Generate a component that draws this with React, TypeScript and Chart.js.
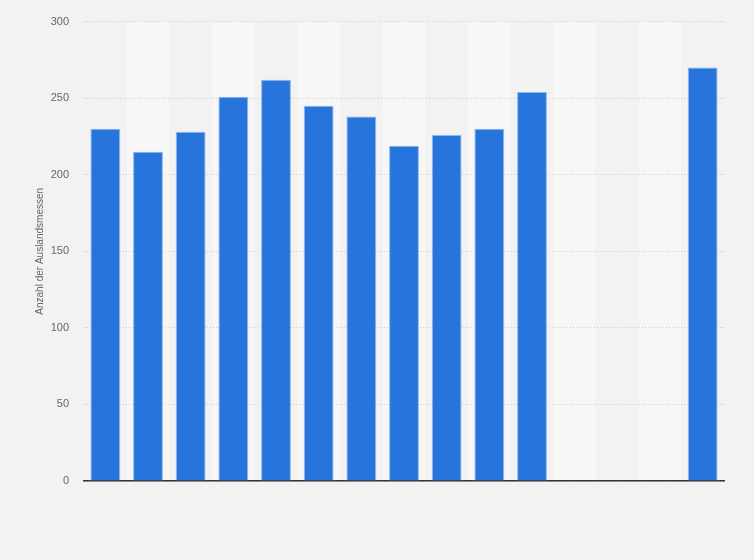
import { useEffect, useRef } from 'react';
import { Chart, registerables, Plugin } from 'chart.js';

Chart.register(...registerables);

// Jahre (x-Achse, im Original ohne Beschriftung)
const years = [
  '2009', '2010', '2011', '2012', '2013', '2014', '2015', '2016',
  '2017', '2018', '2019', '2020', '2021', '2022', '2023',
];
// Anzahl der Auslandsmessen
const fairs = [230, 215, 228, 251, 262, 245, 238, 219, 226, 230, 254, null, null, null, 270];
const yTicks = [0, 50, 100, 150, 200, 250, 300];

// alternating column bands behind grid and bars
const bandPlugin: Plugin<'bar'> = {
  id: 'bands',
  beforeDraw(chart) {
    const { ctx, chartArea, scales } = chart;
    const x = scales.x;
    const step = (chartArea.right - chartArea.left) / years.length;
    ctx.save();
    ctx.fillStyle = '#f7f7f7';
    years.forEach((_, i) => {
      if (i % 2 === 1) {
        const cx = x.getPixelForValue(i);
        ctx.fillRect(cx - step / 2, chartArea.top, step, chartArea.bottom - chartArea.top);
      }
    });
    ctx.restore();
  },
};

const App = () => {
  const canvasRef = useRef<HTMLCanvasElement | null>(null);
  const chartRef = useRef<Chart<'bar'> | null>(null);

  useEffect(() => {
    document.body.style.margin = '0';
    if (!canvasRef.current) return;
    if (chartRef.current) chartRef.current.destroy();

    chartRef.current = new Chart(canvasRef.current, {
      type: 'bar',
      data: {
        labels: years,
        datasets: [
          {
            label: 'Anzahl der Auslandsmessen',
            data: fairs,
            backgroundColor: '#2775dc',
            borderColor: '#8db6ee',
            borderWidth: 1,
            barPercentage: 0.7,
            categoryPercentage: 1,
          },
        ],
      },
      options: {
        responsive: false,
        animation: false,
        layout: { padding: { left: 0, right: 30, top: 20, bottom: 79 } },
        plugins: { legend: { display: false }, tooltip: { enabled: false } },
        scales: {
          x: {
            ticks: { display: false },
            grid: { display: false, drawTicks: false },
            border: { display: true, color: '#333333', width: 1.5 },
            afterFit: (scale) => {
              scale.height = 0;
            },
          },
          y: {
            min: 0,
            max: 300,
            afterBuildTicks: (scale) => {
              scale.ticks = yTicks.map((v) => ({ value: v }));
            },
            afterFit: (scale) => {
              scale.width = 84;
            },
            ticks: {
              padding: 15,
              color: '#666666',
              font: { family: 'Arial, "Liberation Sans", sans-serif', size: 11 },
            },
            grid: {
              color: '#cccccc',
              drawTicks: false,
            },
            border: { display: false, dash: [1, 2] },
            title: {
              display: true,
              text: 'Anzahl der Auslandsmessen',
              color: '#666666',
              font: { family: 'Arial, "Liberation Sans", sans-serif', size: 10 },
              padding: { top: 34, bottom: 0 },
            },
          },
        },
      },
      plugins: [bandPlugin],
    });

    return () => {
      if (chartRef.current) {
        chartRef.current.destroy();
        chartRef.current = null;
      }
    };
  }, []);

  return (
    <div style={{ width: 754, height: 560, background: '#f2f2f2' }}>
      <canvas ref={canvasRef} width={754} height={560} style={{ width: 754, height: 560 }} />
    </div>
  );
};

export default App;
